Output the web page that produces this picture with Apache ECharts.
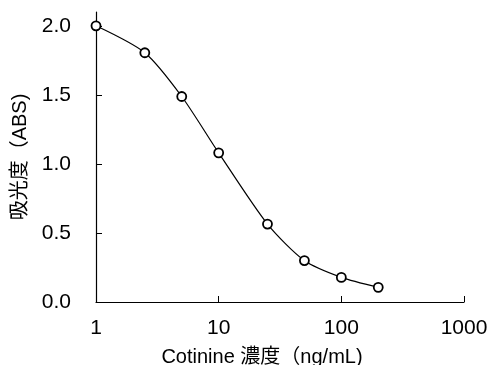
<!DOCTYPE html>
<html>
<head>
<meta charset="utf-8">
<script src="https://cdn.jsdelivr.net/npm/echarts@6/dist/echarts.min.js"></script>
<style>
  html, body { margin: 0; padding: 0; background: #fff; }
  #myChart { width: 489px; height: 365px; }
</style>
</head>
<body>
<div id="myChart"></div>
<script>
// 濃度 (ng/mL) と吸光度
var concentration = [1, 2.5, 5, 10, 25, 50, 100, 200]
var absorbance = [2.0, 1.805, 1.488, 1.08, 0.564, 0.3, 0.178, 0.106]
var yTicks = [0, 0.5, 1.0, 1.5, 2.0]

var fontFamily = '"Liberation Sans", "Noto Sans CJK JP", sans-serif'

var points = concentration.map(function (c, i) {
  return [c, absorbance[i]]
})

var myChart = echarts.init(document.getElementById('myChart'))
myChart.setOption({
  animation: false,
  grid: {
    left: 96,
    right: 25,
    top: 12,
    bottom: 63,
    outerBoundsMode: 'none'
  },
  xAxis: {
    type: 'log',
    logBase: 10,
    min: 1,
    max: 1000,
    name: 'Cotinine 濃度（ng/mL)',
    nameLocation: 'middle',
    nameGap: 45,
    nameTextStyle: {
      color: '#000',
      fontSize: 20,
      fontFamily: fontFamily,
      padding: [0, 36, 0, 0]
    },
    axisLine: { lineStyle: { color: '#000', width: 1.2 } },
    axisTick: { inside: true, length: 6, lineStyle: { color: '#000' } },
    axisLabel: {
      color: '#000',
      fontSize: 21,
      fontFamily: fontFamily,
      margin: 16,
      formatter: function (v) {
        return String(Math.round(v))
      }
    },
    splitLine: { show: false },
    minorTick: { show: false }
  },
  yAxis: {
    type: 'value',
    min: 0,
    max: 2.1,
    name: '吸光度（ABS)',
    nameLocation: 'middle',
    nameRotate: 90,
    nameGap: 63,
    nameTextStyle: {
      color: '#000',
      fontSize: 20,
      fontFamily: fontFamily
    },
    axisLine: { show: true, lineStyle: { color: '#000', width: 1.2 } },
    axisTick: {
      show: true,
      inside: true,
      length: 6,
      customValues: yTicks,
      lineStyle: { color: '#000' }
    },
    axisLabel: {
      color: '#000',
      fontSize: 21,
      fontFamily: fontFamily,
      margin: 25,
      customValues: yTicks,
      formatter: function (v) {
        return v.toFixed(1)
      }
    },
    splitLine: { show: false }
  },
  series: [
    {
      type: 'line',
      data: points,
      smooth: 0.25,
      symbol: 'circle',
      symbolSize: 9,
      itemStyle: {
        color: '#fff',
        borderColor: '#000',
        borderWidth: 1.8
      },
      lineStyle: { color: '#000', width: 1.2 },
      z: 3
    }
  ]
})
</script>
</body>
</html>
